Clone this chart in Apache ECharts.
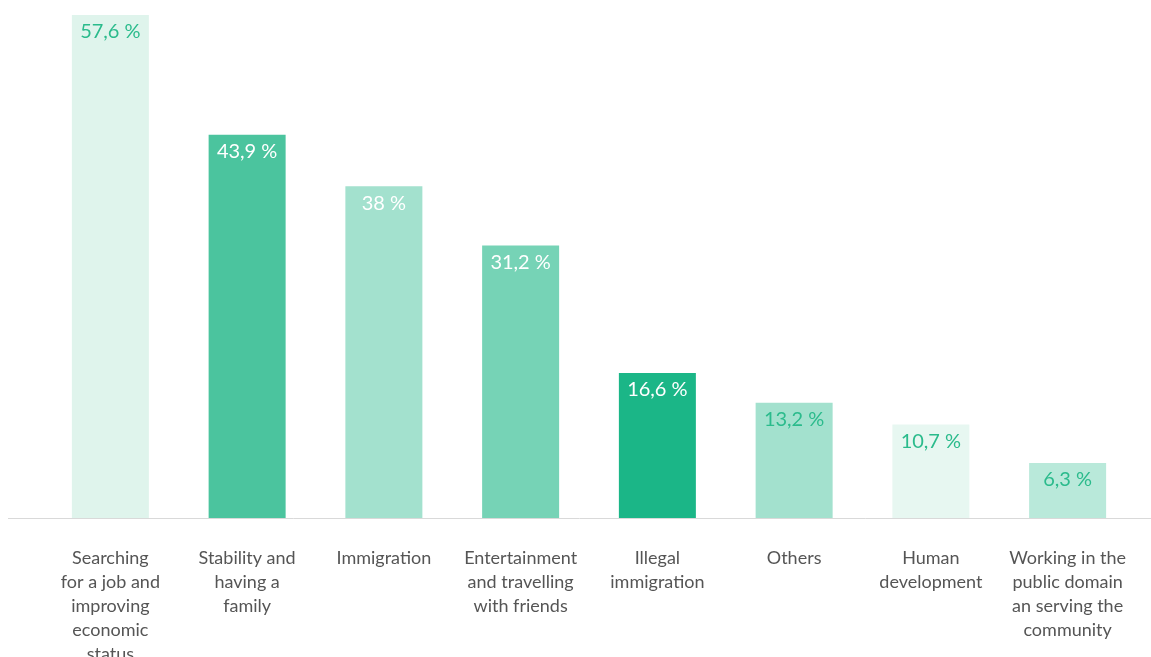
<!DOCTYPE html>
<html>
<head>
<meta charset="utf-8">
<script src="https://cdn.jsdelivr.net/npm/echarts@6/dist/echarts.min.js"></script>
<style>
  html, body { margin: 0; padding: 0; background: #ffffff; }
  #chart { width: 1151px; height: 657px; }
</style>
</head>
<body>
<div id="chart"></div>
<script>
// Reasons, in descending order of share
const categories = [
  'Searching\nfor a job and\nimproving\neconomic\nstatus',
  'Stability and\nhaving a\nfamily',
  'Immigration',
  'Entertainment\nand travelling\nwith friends',
  'Illegal\nimmigration',
  'Others',
  'Human\ndevelopment',
  'Working in the\npublic domain\nan serving the\ncommunity'
];
const shares = [57.6, 43.9, 38, 31.2, 16.6, 13.2, 10.7, 6.3];
const barColors = ['#dff4ec', '#4bc49e', '#a3e1ce', '#76d3b6', '#1bb687', '#a3e1ce', '#e7f7f1', '#b9e9da'];
const labelColors = ['#2bbb8c', '#ffffff', '#ffffff', '#ffffff', '#ffffff', '#2bbb8c', '#2bbb8c', '#2bbb8c'];

const FONT = 'Lato';

const chart = echarts.init(document.getElementById('chart'));

const option = {
  animation: false,
  grid: { left: 42, right: 15, top: 15, bottom: 139, outerBoundsMode: 'none', containLabel: false },
  xAxis: {
    type: 'category',
    data: categories,
    axisLine: { show: false },
    axisTick: { show: false },
    axisLabel: {
      interval: 0,
      margin: 28,
      color: '#555555',
      fontFamily: FONT,
      fontSize: 18,
      lineHeight: 24,
      align: 'center',
      verticalAlign: 'top'
    }
  },
  yAxis: {
    type: 'value',
    min: 0,
    max: 57.6,
    show: false,
    splitLine: { show: false }
  },
  series: [{
    type: 'bar',
    barWidth: 77,
    data: shares.map((v, i) => ({
      value: v,
      itemStyle: { color: barColors[i] },
      label: { color: labelColors[i] }
    })),
    label: {
      show: true,
      position: 'insideTop',
      distance: 7,
      fontFamily: FONT,
      fontSize: 20,
      formatter: p => String(p.value).replace('.', ',') + ' %'
    }
  }]
};

chart.setOption(option);

// Baseline rule spanning the full width of the plot
const baseY = chart.convertToPixel({ yAxisIndex: 0 }, 0);
chart.setOption({
  graphic: [{
    type: 'line',
    shape: { x1: 8, y1: baseY + 0.5, x2: chart.getWidth(), y2: baseY + 0.5 },
    style: { stroke: '#d9d9d9', lineWidth: 1 },
    z: 10
  }]
});
</script>
</body>
</html>
